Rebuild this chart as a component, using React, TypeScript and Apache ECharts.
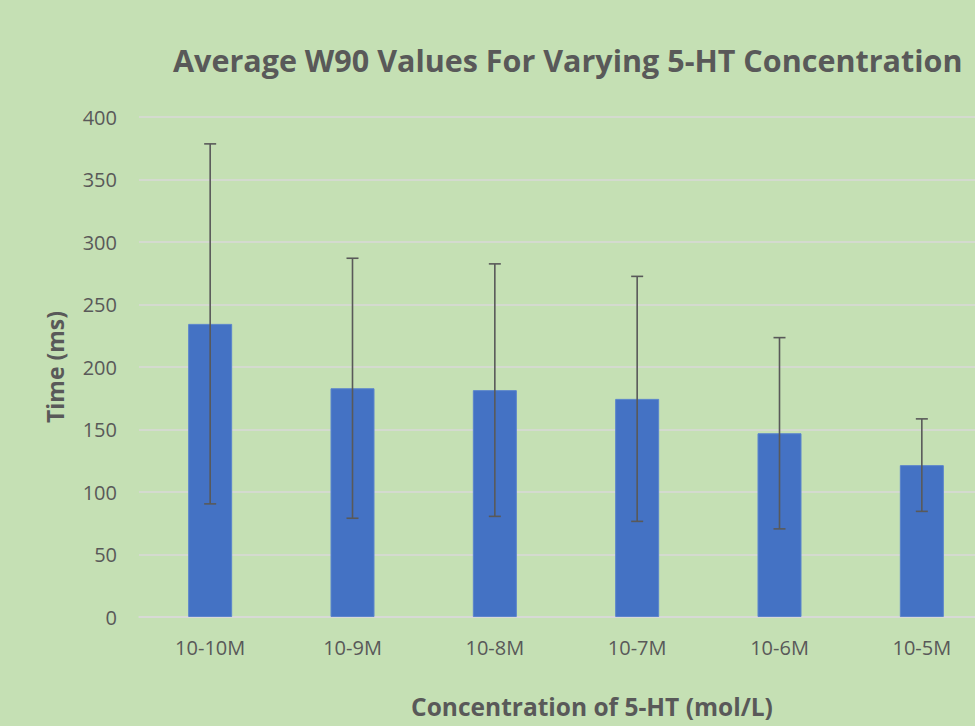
import React, { useEffect, useRef } from "react";
import * as echarts from "echarts";

const categories = ["10-10M", "10-9M", "10-8M", "10-7M", "10-6M", "10-5M"];
const meanValues = [234.5, 183, 181.5, 174.5, 147, 121.5];
const sdValues = [144, 104, 101, 98, 76.5, 37];
const yTicks = { min: 0, max: 400, interval: 50 };

const FONT = "'Open Sans', 'Noto Sans', sans-serif";
const TEXT = "#595959";

export default function App() {
  const ref = useRef<HTMLDivElement>(null);
  useEffect(() => {
    if (!ref.current) return;
    const chart = echarts.init(ref.current, undefined, { renderer: "svg" });
    const errData = categories.map((_, i) => [i, meanValues[i] - sdValues[i], meanValues[i] + sdValues[i]]);
    chart.setOption({
      animation: false,
      backgroundColor: "#C5E0B4",
      textStyle: { fontFamily: FONT },
      title: {
        text: "Average W90 Values For Varying 5-HT Concentration",
        left: 168,
        top: 39,
        textStyle: { fontFamily: FONT, fontWeight: "bold", fontSize: 30.5, color: TEXT },
      },
      grid: { left: 139, right: 17, top: 117, bottom: 109 },
      xAxis: {
        type: "category",
        data: categories,
        axisLine: { lineStyle: { color: "#D9D9D9", width: 1.5 } },
        axisTick: { show: false },
        axisLabel: { color: TEXT, fontSize: 20, margin: 20, fontFamily: FONT },
        name: "Concentration of 5-HT (mol/L)",
        nameLocation: "middle",
        nameGap: 77,
        nameTextStyle: {
          color: TEXT,
          fontSize: 24.5,
          fontWeight: "bold",
          fontFamily: FONT,
          padding: [0, 0, 0, 52],
        },
      },
      yAxis: {
        type: "value",
        min: yTicks.min,
        max: yTicks.max,
        interval: yTicks.interval,
        axisLine: { show: false },
        axisTick: { show: false },
        splitLine: { lineStyle: { color: "#D9D9D9", width: 1.5 } },
        axisLabel: { color: TEXT, fontSize: 20, margin: 22, fontFamily: FONT },
        name: "Time (ms)",
        nameLocation: "middle",
        nameGap: 73,
        nameTextStyle: { color: TEXT, fontSize: 23, fontWeight: "bold", fontFamily: FONT },
      },
      series: [
        {
          type: "bar",
          data: meanValues,
          barWidth: 44,
          itemStyle: { color: "#4472C4", borderColor: "#5B84CC", borderWidth: 1 },
          z: 2,
        },
        {
          type: "custom",
          data: errData,
          z: 5,
          renderItem: (params: any, api: any) => {
            const x = api.value(0);
            const lo = api.coord([x, api.value(1)]);
            const hi = api.coord([x, api.value(2)]);
            const cap = 6;
            const style = { stroke: "#595959", lineWidth: 1.6 };
            return {
              type: "group",
              children: [
                { type: "line", shape: { x1: hi[0], y1: hi[1], x2: lo[0], y2: lo[1] }, style },
                { type: "line", shape: { x1: hi[0] - cap, y1: hi[1], x2: hi[0] + cap, y2: hi[1] }, style },
                { type: "line", shape: { x1: lo[0] - cap, y1: lo[1], x2: lo[0] + cap, y2: lo[1] }, style },
              ],
            };
          },
        },
      ],
    });
    return () => chart.dispose();
  }, []);
  return (
    <div style={{ position: "fixed", left: 0, top: 0, width: 975, height: 726, overflow: "hidden" }}>
      <div ref={ref} style={{ width: 1010, height: 726 }} />
    </div>
  );
}
